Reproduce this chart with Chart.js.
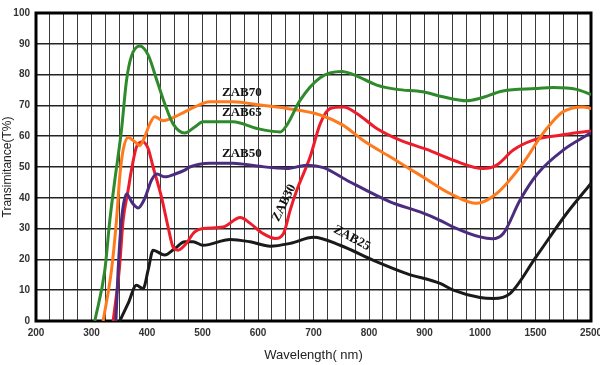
<!DOCTYPE html>
<html>
<head>
<meta charset="utf-8">
<script src="https://cdn.jsdelivr.net/npm/chart.js@4/dist/chart.umd.min.js"></script>
<style>
  body { margin: 0; background: #fff; }
  canvas { display: block; }
</style>
</head>
<body>
<canvas id="grafico" width="600" height="365"></canvas>
<script>
// Etiquetas del eje X (la escala cambia de paso despues de 1000 nm)
const etiquetasX = ['200', '300', '400', '500', '600', '700', '800', '900', '1000', '1500', '2500'];
const ondasEtiquetas = [200, 300, 400, 500, 600, 700, 800, 900, 1000, 1500, 2500];

// Datos: longitud de onda (nm) y transmitancia (%)
const ondaZAB65 = [306, 324, 333, 342, 354, 363, 372, 387, 402, 418, 433, 447, 468, 486, 501, 555, 598, 640, 652, 676, 712, 751, 772, 814, 850, 897, 933, 976, 1000, 1205, 1500, 1820, 2240, 2500];
const tZAB65 = [0, 16.5, 32.7, 45.7, 62, 78, 86, 89.3, 86.4, 78, 70, 64, 61, 63, 64.7, 64.7, 62.5, 61.4, 63.6, 71.7, 79, 81, 80, 76.6, 75.2, 74.4, 72.8, 71.5, 72.3, 74.7, 75.5, 75.8, 75.2, 73.5];

const ondaZAB70 = [321, 336, 345, 351, 357, 366, 378, 387, 396, 405, 414, 429, 444, 468, 486, 513, 555, 604, 652, 712, 753, 789, 838, 897, 946, 994, 1150, 1387, 1635, 1995, 2356, 2500];
const tZAB70 = [0, 16.5, 32.7, 47, 55.5, 59.6, 58.2, 57, 59.8, 64, 66.3, 65, 65.8, 67.9, 69.5, 71.2, 71.2, 70.1, 69, 66.9, 63.6, 58.7, 53.3, 46.8, 41.4, 38.2, 41.4, 51.2, 60.9, 67.9, 69.5, 69];

const ondaZAB50 = [344, 348, 354, 363, 374, 384, 396, 408, 418, 432, 453, 468, 477, 513, 555, 598, 652, 688, 718, 760, 838, 892, 928, 952, 1000, 1110, 1210, 1360, 1540, 2000, 2500];
const tZAB50 = [0, 16.5, 32.7, 41.2, 38.2, 36.7, 39.8, 45.7, 47.7, 46.8, 47.9, 49, 50, 51.2, 51.2, 50.3, 49.5, 50.6, 49.8, 45.7, 38.7, 35.4, 32.7, 30.5, 27.3, 26.7, 28.4, 39.2, 47.9, 55.5, 61.1];

const ondaZAB30 = [339, 350, 357, 366, 372, 381, 392, 402, 411, 426, 438, 447, 456, 468, 486, 501, 537, 568, 586, 609, 631, 646, 658, 670, 694, 712, 730, 754, 778, 814, 856, 904, 952, 1030, 1150, 1300, 1480, 1940, 2500];
const tZAB30 = [0, 16.5, 32.7, 42.5, 49, 56.5, 58.2, 56, 50, 40.3, 30.5, 24, 23, 24.6, 28.9, 30, 30.5, 33.6, 31.7, 28.4, 26.8, 28.4, 36, 42.5, 53.3, 64, 69, 69.5, 67.4, 62.5, 58.7, 55.7, 52.2, 49.5, 50.6, 55.5, 58.7, 60.3, 61.7];

const ondaZAB25 = [351, 366, 381, 393, 402, 411, 432, 450, 468, 483, 501, 550, 586, 622, 658, 700, 748, 808, 868, 928, 952, 1000, 1120, 1270, 1510, 2060, 2500];
const tZAB25 = [0, 5.7, 11.6, 10.5, 16.5, 23, 21.4, 23.5, 25.7, 25.7, 24.6, 26.5, 25.7, 24.3, 25.2, 27.2, 24.6, 19.7, 15.4, 12.2, 10, 7.6, 7.3, 8.9, 20.8, 34.9, 44.7];

// Convierte nm a la posicion del eje (un tramo por etiqueta)
function aEje(onda) {
  for (let i = 0; i < ondasEtiquetas.length - 1; i++) {
    const a = ondasEtiquetas[i], b = ondasEtiquetas[i + 1];
    if (onda <= b || i === ondasEtiquetas.length - 2) {
      return i + (onda - a) / (b - a);
    }
  }
}

function puntos(ondas, valores) {
  return ondas.map((o, i) => ({ x: aEje(o), y: valores[i] }));
}

function serie(nombre, ondas, valores, color) {
  return {
    label: nombre,
    data: puntos(ondas, valores),
    borderColor: color,
    borderWidth: 3,
    pointRadius: 0,
    fill: false,
    cubicInterpolationMode: 'monotone'
  };
}

// Textos sobre las curvas
const textosCurvas = [
  { texto: 'ZAB70', onda: 571, t: 74.0, angulo: 0 },
  { texto: 'ZAB65', onda: 571, t: 67.8, angulo: 0 },
  { texto: 'ZAB50', onda: 571, t: 54.2, angulo: 0 },
  { texto: 'ZAB30', onda: 647, t: 38.3, angulo: -64 },
  { texto: 'ZAB25', onda: 769, t: 26.9, angulo: 28 }
];

const pluginMarco = {
  id: 'marco',
  beforeDatasetsDraw(chart) {
    const { ctx, chartArea: a } = chart;
    ctx.save();
    ctx.strokeStyle = '#000';
    ctx.lineWidth = 3;
    ctx.strokeRect(a.left, a.top, a.right - a.left, a.bottom - a.top);
    ctx.restore();
  },
  afterDatasetsDraw(chart) {
    const { ctx, scales } = chart;
    ctx.save();
    ctx.font = 'bold 13px "Liberation Serif", "Times New Roman", serif';
    ctx.fillStyle = '#111';
    ctx.textAlign = 'center';
    ctx.textBaseline = 'middle';
    textosCurvas.forEach(e => {
      const x = scales.x.getPixelForValue(aEje(e.onda));
      const y = scales.y.getPixelForValue(e.t);
      ctx.save();
      ctx.translate(x, y);
      ctx.rotate(e.angulo * Math.PI / 180);
      ctx.fillText(e.texto, 0, 0);
      ctx.restore();
    });
    ctx.restore();
  }
};

Chart.defaults.font.family = '"Liberation Sans", Arial, sans-serif';

const ctx = document.getElementById('grafico').getContext('2d');
const grafico = new Chart(ctx, {
  type: 'line',
  data: {
    datasets: [
      serie('ZAB65', ondaZAB65, tZAB65, '#2f8a2c'),
      serie('ZAB70', ondaZAB70, tZAB70, '#ff7a1c'),
      serie('ZAB50', ondaZAB50, tZAB50, '#4b2c7e'),
      serie('ZAB30', ondaZAB30, tZAB30, '#ee1d2b'),
      serie('ZAB25', ondaZAB25, tZAB25, '#1a1a1a')
    ]
  },
  options: {
    responsive: false,
    animation: false,
    devicePixelRatio: 1,
    layout: { padding: { top: 13, right: 9, left: 0, bottom: 0 } },
    plugins: {
      legend: { display: false },
      tooltip: { enabled: false }
    },
    scales: {
      x: {
        type: 'linear',
        min: 0,
        max: etiquetasX.length - 1,
        afterFit: s => { s.height = 44; s.paddingLeft = 0; s.paddingRight = 0; },
        border: { display: false },
        grid: { color: '#3a3a3a', lineWidth: 1, drawTicks: false },
        ticks: {
          stepSize: 0.25,
          autoSkip: false,
          maxRotation: 0,
          padding: 6,
          color: '#333',
          font: { size: 10, weight: 'bold' },
          callback: v => Number.isInteger(v) ? etiquetasX[v] : ''
        },
        title: {
          display: true,
          text: 'Wavelength( nm)',
          color: '#222',
          font: { size: 13 },
          padding: { top: 0, bottom: 2 }
        }
      },
      y: {
        min: 0,
        max: 100,
        afterFit: s => { s.width = 36; s.paddingTop = 0; s.paddingBottom = 0; },
        border: { display: false },
        grid: { color: '#222', lineWidth: 1.6, drawTicks: false },
        ticks: {
          stepSize: 10,
          padding: 6,
          color: '#333',
          font: { size: 10, weight: 'bold' }
        },
        title: {
          display: true,
          text: 'Transimitance(T%)',
          color: '#222',
          font: { size: 12 },
          padding: { top: 0, bottom: 0 }
        }
      }
    }
  },
  plugins: [pluginMarco]
});
</script>
</body>
</html>
